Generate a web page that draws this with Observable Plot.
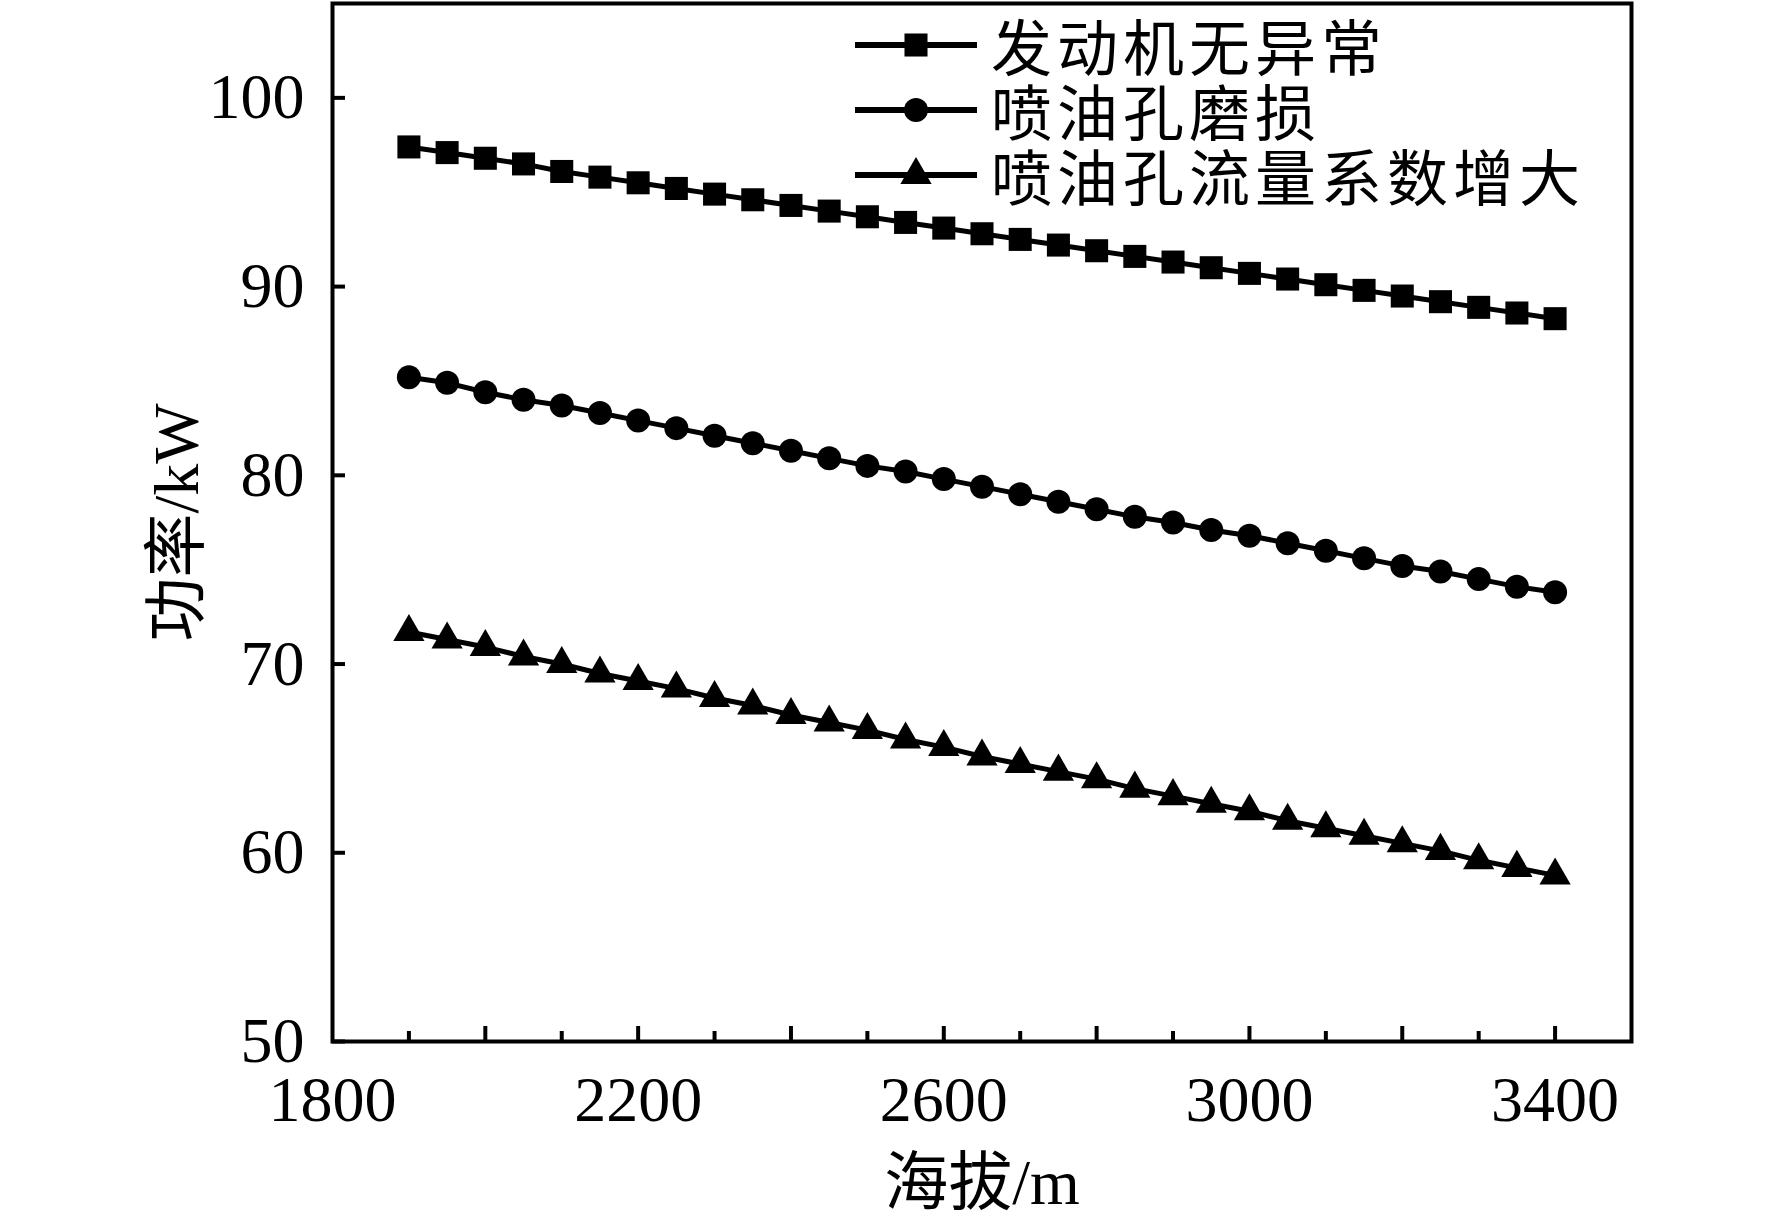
<!DOCTYPE html>
<html><head><meta charset="utf-8">
<script src="https://cdn.jsdelivr.net/npm/d3@7"></script>
<script src="https://cdn.jsdelivr.net/npm/@observablehq/plot@0.6"></script>
<style>
body{margin:0;background:#fff;}
#wrap{position:relative;width:1772px;height:1223px;overflow:hidden;}
#legend{position:absolute;left:855px;top:12px;font-family:"Noto Sans CJK SC","Liberation Serif",serif;font-size:61px;color:#000;}
.row{display:flex;align-items:center;height:65px;line-height:62px;white-space:nowrap;}
.row svg{display:block;margin-right:14px;}
.row span{display:block;letter-spacing:5px;}
</style></head><body><div id="wrap"><div id="chart"></div><div id="legend"></div></div>
<script>
const altitude = [1900,1950,2000,2050,2100,2150,2200,2250,2300,2350,2400,2450,2500,2550,2600,2650,2700,2750,2800,2850,2900,2950,3000,3050,3100,3150,3200,3250,3300,3350,3400];
const normalPower = [97.4,97.1,96.8,96.5,96.1,95.8,95.5,95.2,94.9,94.6,94.3,94.0,93.7,93.4,93.1,92.8,92.5,92.2,91.9,91.6,91.3,91.0,90.7,90.4,90.1,89.8,89.5,89.2,88.9,88.6,88.3];
const wearPower = [85.2,84.9,84.4,84.0,83.7,83.3,82.9,82.5,82.1,81.7,81.3,80.9,80.5,80.2,79.8,79.4,79.0,78.6,78.2,77.8,77.5,77.1,76.8,76.4,76.0,75.6,75.2,74.9,74.5,74.1,73.8];
const flowPower = [71.7,71.3,70.9,70.4,70.0,69.5,69.1,68.7,68.2,67.8,67.3,66.9,66.5,66.0,65.6,65.1,64.7,64.3,63.9,63.4,63.0,62.6,62.2,61.7,61.3,60.9,60.5,60.1,59.6,59.2,58.8];
const seriesNames = ["发动机无异常","喷油孔磨损","喷油孔流量系数增大"];
const xLabelTicks = [1800,2200,2600,3000,3400];
const xMajorTicks = [2000,2200,2400,2600,2800,3000,3200,3400];
const xMinorTicks = [1900,2100,2300,2500,2700,2900,3100,3300];
const yTicks = [50,60,70,80,90,100];

const seriesValues = [normalPower, wearPower, flowPower];
const symbolNames = ["square","circle","triangle"];
const symbolR = [13, 12, 11.6];
const d3Symbols = [d3.symbolSquare, d3.symbolCircle, d3.symbolTriangle];

const rows = [];
seriesNames.forEach((name, si) => {
  altitude.forEach((a, i) => rows.push({series: name, altitude: a, power: seriesValues[si][i]}));
});

const fontFamily = '"Liberation Serif","Noto Sans CJK SC",serif';

const chart = Plot.plot({
  width: 1772,
  height: 1223,
  marginLeft: 332,
  marginRight: 141,
  marginTop: 3,
  marginBottom: 182,
  style: {fontFamily, fontSize: "64px", color: "#000", background: "#fff"},
  x: {domain: [1800, 3500]},
  y: {domain: [50, 105]},
  marks: [
    Plot.axisX({ticks: xLabelTicks, tickSize: 0, tickPadding: 34, tickFormat: d => String(d),
      label: "海拔/m", labelAnchor: "center", labelOffset: 162, labelArrow: "none"}),
    Plot.axisX({ticks: xMajorTicks, tickSize: -15, strokeWidth: 4, text: null, label: null}),
    Plot.axisX({ticks: xMinorTicks, tickSize: -10, strokeWidth: 4, text: null, label: null}),
    Plot.axisY({ticks: yTicks, tickSize: 0, tickPadding: 28, tickFormat: d => String(d),
      label: "功率/kW", labelAnchor: "center", labelOffset: 180, labelArrow: "none"}),
    Plot.axisY({ticks: yTicks, tickSize: -13, strokeWidth: 4, text: null, label: null}),
    Plot.line(rows, {x: "altitude", y: "power", z: "series", stroke: "#000", strokeWidth: 5}),
    ...seriesNames.map((name, si) => Plot.dot(rows.filter(d => d.series === name), {
      x: "altitude", y: "power", symbol: () => symbolNames[si], fill: "#000", stroke: "none", r: symbolR[si]
    })),
    Plot.frame({stroke: "#000", strokeWidth: 4})
  ],
  symbol: {type: "identity"}
});
document.getElementById("chart").appendChild(chart);

const legend = document.getElementById("legend");
seriesNames.forEach((name, si) => {
  const row = document.createElement("div");
  row.className = "row";
  const w = 122, h = 40;
  const svg = d3.create("svg").attr("width", w).attr("height", h);
  svg.append("line").attr("x1", 0).attr("x2", w).attr("y1", h/2).attr("y2", h/2)
    .attr("stroke", "#000").attr("stroke-width", 6);
  svg.append("path").attr("transform", `translate(${w/2},${h/2})`)
    .attr("d", d3.symbol(d3Symbols[si], Math.PI * symbolR[si] * symbolR[si])())
    .attr("fill", "#000");
  row.appendChild(svg.node());
  const span = document.createElement("span");
  span.textContent = name;
  row.appendChild(span);
  legend.appendChild(row);
});
</script>
</body></html>
